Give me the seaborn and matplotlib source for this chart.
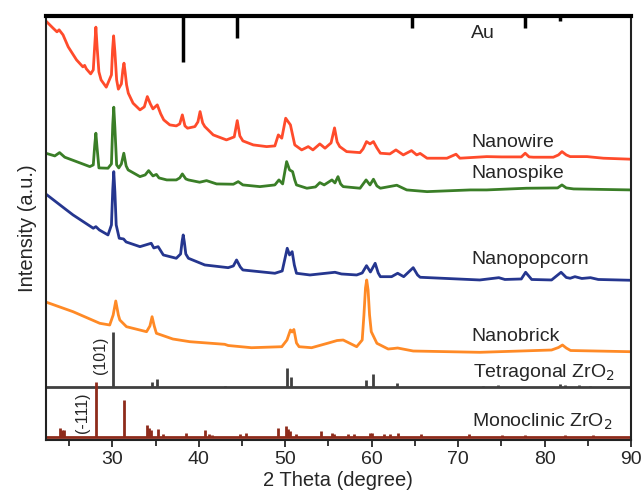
import numpy as np
import pandas as pd
import matplotlib
matplotlib.use("Agg")
import matplotlib.pyplot as plt
import seaborn as sns

# ---------------- data ----------------
wire_x = [22.3, 23.15, 23.6, 23.85, 24.3, 24.9, 25.86, 26.6, 26.8, 27.0, 27.5, 27.8, 27.95, 28.1, 28.25, 28.45,
          28.7, 29.3, 29.9, 30.03, 30.15, 30.3, 30.5, 30.7, 31.05, 31.22, 31.35, 31.48, 31.65, 31.85, 32.4,
          33.2, 33.7, 34.05, 34.4, 34.7, 35.2, 35.6, 35.95, 36.65, 37.4, 37.8, 38.1, 38.4, 38.7, 39.55, 39.9,
          40.15, 40.45, 40.7, 41.67, 43.2, 44.1, 44.45, 44.75, 45.1, 46.3, 47.85, 48.8, 49.2, 49.6, 50.05,
          50.35, 50.6, 50.85, 51.1, 51.9, 52.66, 53.2, 54.0, 54.6, 55.3, 55.7, 56.0, 56.3, 57.1, 58.65, 59.0,
          59.4, 59.8, 60.2, 60.6, 61.0, 62.1, 62.8, 63.65, 64.6, 65.2, 65.6, 66.4, 68.7, 69.75, 70.2, 73.3,
          75.0, 77.3, 77.75, 78.2, 78.7, 81.0, 81.6, 82.0, 82.5, 82.95, 84.9, 86.8, 90.0]
wire_y = [419, 411.7, 408, 410, 405, 393, 380, 373, 374.5, 371, 366, 370, 392, 412.7, 392, 368,
          360, 352.7, 365, 390, 404, 388, 360, 350.7, 356, 370, 376.7, 368, 355, 346.7, 336.7,
          330, 333, 343.3, 336, 331, 335, 326, 320, 315, 314, 316, 325, 314, 311.7, 313.3, 318,
          328.3, 317, 313.3, 305, 300, 303, 319.3, 304, 299, 295, 293.3, 294, 305, 301.7, 321.7,
          318, 315, 305, 295, 290, 293.3, 290, 296, 291.7, 297, 312, 298, 293.3, 288.3, 287.3, 291,
          298.3, 296, 298.3, 292, 286.7, 286, 290, 285, 289.3, 285, 286.5, 281.7, 281.7, 285.7, 281.7, 283.3,
          283, 283, 286.7, 283, 282.7, 282.7, 285, 288.3, 285, 283.3, 283.3, 281.7, 280.7]

spike_x = [22.3, 23.35, 23.9, 24.5, 25.86, 27.4, 27.8, 27.97, 28.1, 28.23, 28.45, 29.5, 29.9, 30.05, 30.17,
           30.3, 30.5, 30.75, 31.05, 31.33, 31.6, 31.83, 33.2, 33.8, 34.2, 34.7, 35.1, 35.4, 36.3, 37.4, 37.8,
           38.1, 38.5, 38.8, 40.1, 40.9, 42.06, 44.0, 44.56, 45.1, 47.07, 48.8, 49.27, 49.7, 50.16, 50.5,
           50.85, 51.1, 51.3, 52.5, 53.5, 54.0, 54.5, 55.4, 55.75, 56.1, 56.4, 56.7, 58.65, 59.35, 59.8,
           60.2, 60.6, 61.0, 62.9, 64.05, 66.4, 71.4, 73.3, 77.9, 81.5, 82.0, 82.5, 83.35, 90.0]
spike_y = [286.7, 284, 287.3, 282.7, 278.3, 273.3, 275, 295, 306.7, 293, 272, 271.7, 276, 315, 332.7,
           312, 275, 272, 276, 286.7, 274, 270, 263.3, 265, 269.3, 264, 265.5, 262, 260, 260, 262,
           266, 261, 260, 257.7, 259.3, 256, 255.7, 258.3, 255, 253.3, 255, 260, 256, 278.3, 270,
           268.3, 260, 255, 251.7, 253, 257.3, 255, 260, 257, 263.3, 256, 253.3, 251.7, 260, 255,
           260.7, 254, 251.7, 254.7, 250, 248.3, 250, 250, 251.7, 252, 255, 252, 251, 250]

popcorn_x = [22.3, 24.7, 25.46, 27.8, 28.1, 28.5, 29.5, 29.9, 30.05, 30.17, 30.3, 30.45, 30.8, 31.3, 31.6,
             33.2, 34.5, 34.8, 35.3, 35.9, 37.4, 37.9, 38.08, 38.2, 38.33, 38.5, 38.8, 40.7, 43.4, 44.0,
             44.37, 44.8, 45.1, 48.8, 49.65, 50.23, 50.5, 50.8, 51.05, 51.3, 52.86, 55.75, 56.5, 58.26, 58.9,
             59.4, 59.85, 60.4, 60.75, 61.0, 62.3, 63.0, 63.7, 64.8, 65.3, 65.6, 72.5, 74.7, 75.4, 77.3,
             77.8, 78.5, 80.8, 81.9, 82.5, 82.95, 83.5, 84.3, 85.3, 86.2, 90.0]
popcorn_y = [246, 230, 225, 211.7, 213.3, 210, 205, 215, 250, 268.3, 248, 215, 201.7, 201, 198,
             193.3, 196.7, 192, 193.3, 185, 181.7, 186, 199, 205, 198, 186, 181.7, 175, 172.3, 174,
             180, 173, 170, 166.7, 169, 191.7, 185, 188.3, 175, 166.7, 165, 167.7, 166, 165, 167,
             174.3, 168, 176.7, 167, 163.3, 163.3, 166.7, 163.3, 172.3, 165, 162.7, 160, 162.3, 160.5, 161,
             167.7, 160.5, 160, 167.7, 162.5, 161.7, 163.3, 161.5, 162.3, 160.5, 159.7]

brick_x = [22.4, 25.46, 28.55, 29.7, 30.1, 30.4, 30.7, 30.87, 31.64, 33.96, 34.35, 34.6, 34.85, 35.1, 37.0,
           38.97, 43.0, 43.4, 46.1, 49.6, 50.2, 50.6, 50.8, 51.0, 51.3, 51.6, 53.05, 55.0, 56.0, 56.7, 58.26,
           58.9, 59.1, 59.28, 59.42, 59.58, 59.75, 59.95, 60.6, 61.9, 62.5, 63.0, 64.8, 72.5, 80.8, 81.6,
           82.06, 82.5, 83.0, 90.0]
brick_y = [137.7, 128.3, 116.7, 115, 125, 139, 125, 120, 113.3, 108.3, 114, 123.3, 114, 106.7, 101,
           98.3, 95.7, 94.5, 92.3, 93.3, 100, 110, 108, 110.5, 97, 93.3, 92.3, 97, 99.5, 100, 93.3,
           100, 125, 152, 160, 150, 125, 108.3, 96.7, 91, 91.5, 92, 89, 87.7, 90, 92.5,
           95, 92, 89.5, 88.3]

au_pos = [38.15, 44.4, 64.65, 77.7, 81.8]
au_len = [46, 22, 12, 12, 5]

tet_pos = [30.1, 34.6, 35.2, 43.0, 50.2, 50.7, 59.3, 60.2, 62.9, 72.9, 74.6, 81.8, 82.3, 84.0, 85.3]
tet_h = [55, 5, 8, 1.2, 18.3, 10, 6.7, 12.3, 3.3, 1, 2, 3, 1.5, 1.5, 1]

mono_pos = [24.0, 24.2, 24.45, 28.1, 31.4, 34.0, 34.25, 34.45, 35.25, 35.9, 38.5, 40.7, 41.2, 41.5, 44.8,
            45.5, 49.2, 50.1, 50.3, 50.6, 51.2, 54.1, 55.4, 55.6, 57.2, 57.9, 59.8, 60.0, 61.4, 62.1, 63.0,
            65.7, 71.3, 75.1, 77.7, 82.3, 85.6]
mono_h = [8.3, 6.7, 6.7, 55, 36.7, 11.7, 8.3, 6.7, 7.7, 2.5, 3.3, 6.7, 2.5, 2, 3,
          4, 8.7, 11, 8, 5.7, 3, 5.3, 4, 3, 3, 2.5, 4, 4, 2.5, 3, 4,
          3, 2.5, 2, 2, 2, 1.5]

labels = ["Nanowire", "Nanospike", "Nanopopcorn", "Nanobrick"]
colors = ["#FF4B2B", "#3A7E27", "#25368F", "#FF8A26"]
tet_base = 53.3
mono_base = 3.3
y_top = 424

# ---------------- plot ----------------
sns.set_style("ticks")
plt.rcParams['font.family'] = ['Liberation Sans', 'DejaVu Sans']

fig = plt.figure(figsize=(6.44, 4.95), dpi=100)
ax = fig.add_axes([0.071, 0.111, 0.909, 0.857])

series = [(wire_x, wire_y), (spike_x, spike_y), (popcorn_x, popcorn_y), (brick_x, brick_y)]
for (xs, ys), lab, col in zip(series, labels, colors):
    df = pd.DataFrame({"x": xs, "y": ys})
    sns.lineplot(data=df, x="x", y="y", ax=ax, color=col, lw=2.0, estimator=None, sort=False)

# Au reference sticks from top
ax.vlines(au_pos, [y_top - l for l in au_len], y_top, colors="black", lw=2.5)
# tetragonal ZrO2
ax.axhline(tet_base, color="#404040", lw=2.0)
ax.vlines(tet_pos, tet_base, [tet_base + h for h in tet_h], colors="#404040", lw=2.0)
# monoclinic ZrO2
ax.axhline(mono_base, color="#8E2B1B", lw=2.0)
ax.vlines(mono_pos, mono_base, [mono_base + h for h in mono_h], colors="#8E2B1B", lw=2.0)

ax.set_xlim(22.3, 90)
ax.set_ylim(0, y_top)
ax.set_xticks([30, 40, 50, 60, 70, 80, 90])
ax.set_xticks([25, 35, 45, 55, 65, 75, 85], minor=True)
ax.set_yticks([])
ax.tick_params(axis="x", which="major", direction="out", length=5, width=1.3, labelsize=14, pad=3)
ax.tick_params(axis="x", which="minor", direction="out", length=4, width=1.3)
for side in ["left", "bottom", "right"]:
    ax.spines[side].set_linewidth(1.5)
    ax.spines[side].set_color("#222222")
ax.spines["top"].set_linewidth(3)
ax.spines["top"].set_color("black")

ax.set_xlabel("2 Theta (degree)", fontsize=14.5, labelpad=2)
ax.set_ylabel("Intensity (a.u.)", fontsize=14.5, labelpad=6)

fs = 14
ax.text(71.5, 406.7, "Au", fontsize=fs, va="center", ha="left")
ax.text(71.5, 297.3, "Nanowire", fontsize=fs, va="center", ha="left")
ax.text(71.5, 266.7, "Nanospike", fontsize=fs, va="center", ha="left")
ax.text(71.5, 180.7, "Nanopopcorn", fontsize=fs, va="center", ha="left")
ax.text(71.5, 103.3, "Nanobrick", fontsize=fs, va="center", ha="left")
ax.text(71.7, 67.3, "Tetragonal ZrO$_2$", fontsize=fs, va="center", ha="left")
ax.text(71.6, 18.3, "Monoclinic ZrO$_2$", fontsize=fs, va="center", ha="left")
ax.text(28.6, 85, "(101)", fontsize=11.5, rotation=90, va="center", ha="center")
ax.text(26.5, 27.5, "(-111)", fontsize=11.5, rotation=90, va="center", ha="center")

fig.savefig("out.png", dpi=100)
